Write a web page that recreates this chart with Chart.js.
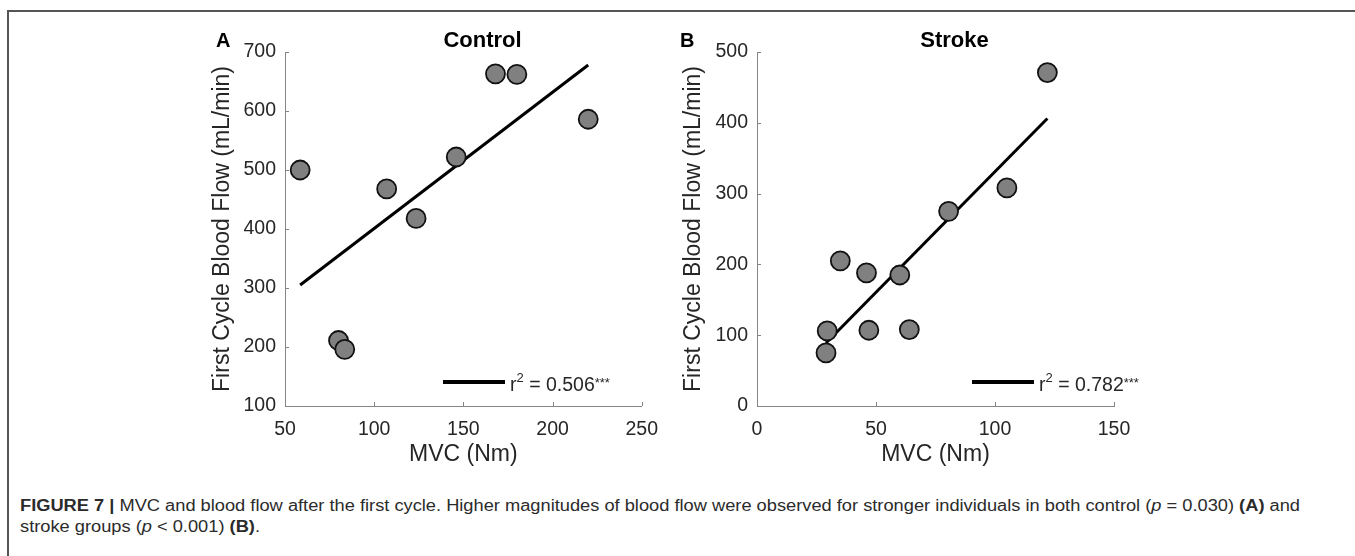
<!DOCTYPE html>
<html><head><meta charset="utf-8">
<script src="https://cdn.jsdelivr.net/npm/chart.js@4.4.0/dist/chart.umd.min.js"></script>
<style>
html,body{margin:0;padding:0;background:#fff;}
body{width:1355px;height:556px;position:relative;overflow:hidden;font-family:"Liberation Sans",Arial,sans-serif;}
#frameTop{position:absolute;left:7px;top:10px;width:1348px;height:0;border-top:2px solid #555;}
#frameLeft{position:absolute;left:7px;top:10px;width:0;height:546px;border-left:2px solid #555;}
canvas{position:absolute;top:0;}
.cap{position:absolute;left:20px;white-space:nowrap;font-size:16px;line-height:20px;color:#2b2b2b;transform-origin:0 0;}
</style></head>
<body>
<div id="frameTop"></div><div id="frameLeft"></div>
<canvas id="cA" width="520" height="480" style="left:150px"></canvas>
<canvas id="cB" width="530" height="480" style="left:620px"></canvas>
<div class="cap" id="cap1" style="top:496px"><b>FIGURE 7 |</b> MVC and blood flow after the first cycle. Higher magnitudes of blood flow were observed for stronger individuals in both control (<i>p</i> = 0.030) <b>(A)</b> and</div>
<div class="cap" id="cap2" style="top:517px">stroke groups (<i>p</i> &lt; 0.001) <b>(B)</b>.</div>
<script>
// ---- data ----
const ctrlMVC  = [58.5, 80, 83.5, 107, 123.5, 146, 168, 180, 220];
const ctrlFlow = [500, 211, 196, 468, 418, 522, 663, 662, 586];
const ctrlFitMVC  = [58.5, 220];
const ctrlFitFlow = [305, 678];
const ctrlR2 = '0.506';

const strokeMVC  = [29, 29.5, 35, 46, 47, 60, 64, 80.5, 105, 122];
const strokeFlow = [75, 106, 205, 188, 107, 185, 108, 275, 308, 471];
const strokeFitMVC  = [29, 122];
const strokeFitFlow = [89, 406];
const strokeR2 = '0.782';

const ctrlXTicks = [50, 250, 50];    // min, max, step
const ctrlYTicks = [100, 700, 100];
const strokeXTicks = [0, 150, 50];
const strokeYTicks = [0, 500, 100];

const xTitle = 'MVC (Nm)';
const yTitle = 'First Cycle Blood Flow (mL/min)';

// ---- styling ----
const FF = '"Liberation Sans", Arial, sans-serif';
const TXT = '#262626';
const AXIS = '#858585';

const decor = {
  id: 'decor',
  afterDraw(chart, args, o) {
    const ctx = chart.ctx, xs = chart.scales.x, ys = chart.scales.y, ca = chart.chartArea;
    ctx.save();
    ctx.strokeStyle = AXIS; ctx.lineWidth = 1;
    ctx.beginPath();
    xs.ticks.forEach(t => { const px = Math.round(xs.getPixelForValue(t.value)) + 0.5; ctx.moveTo(px, ca.bottom); ctx.lineTo(px, ca.bottom - 4); });
    ys.ticks.forEach(t => { const py = Math.round(ys.getPixelForValue(t.value)) + 0.5; ctx.moveTo(ca.left, py); ctx.lineTo(ca.left + 4, py); });
    ctx.stroke();
    // panel title
    ctx.fillStyle = '#000';
    ctx.textBaseline = 'alphabetic';
    ctx.textAlign = 'center';
    ctx.font = 'bold 22px ' + FF;
    ctx.fillText(o.title, ca.left + 197.5, 47);
    ctx.textAlign = 'left';
    ctx.font = 'bold 20px ' + FF;
    ctx.fillText(o.letter, ca.left + o.letterDx, 47);
    // legend
    const ly = ca.bottom - 24;
    ctx.strokeStyle = '#000'; ctx.lineWidth = 4;
    ctx.beginPath(); ctx.moveTo(ca.left + o.legDx, ly); ctx.lineTo(ca.left + o.legDx + 62, ly); ctx.stroke();
    let tx = ca.left + o.legDx + 67;
    const by = ca.bottom - 15;
    ctx.fillStyle = TXT;
    ctx.font = '19.5px ' + FF; ctx.fillText('r', tx, by); tx += ctx.measureText('r').width;
    ctx.font = '13px ' + FF; ctx.fillText('2', tx, by - 9); tx += ctx.measureText('2').width;
    ctx.font = '19.5px ' + FF; ctx.fillText(' = ' + o.r2, tx, by); tx += ctx.measureText(' = ' + o.r2).width;
    ctx.font = '13px ' + FF; ctx.fillText('***', tx, by - 4);
    ctx.restore();
  }
};

function makeChart(id, xs, ys, fx, fy, xt, yt, cfg) {
  const pts = xs.map((v, i) => ({x: v, y: ys[i]}));
  const fit = fx.map((v, i) => ({x: v, y: fy[i]}));
  const canvas = document.getElementById(id);
  return new Chart(canvas, {
    type: 'scatter',
    data: {datasets: [
      {data: pts, pointRadius: 9.5, pointHoverRadius: 9.5, backgroundColor: '#808080', borderColor: '#111', borderWidth: 1.8},
      {type: 'line', data: fit, borderColor: '#000', borderWidth: 3, pointRadius: 0, showLine: true, fill: false}
    ]},
    options: {
      responsive: false, animation: false, events: [],
      layout: {padding: {left: 0, top: 52, right: canvas.width - cfg.caRight, bottom: 0}},
      plugins: {legend: {display: false}, tooltip: {enabled: false}, decor: cfg},
      scales: {
        x: {type: 'linear', min: xt[0], max: xt[1],
            ticks: {stepSize: xt[2], color: TXT, font: {size: 19.5, family: FF}, padding: 12, maxRotation: 0},
            grid: {drawOnChartArea: false, drawTicks: false},
            border: {display: true, color: AXIS, width: 1},
            title: {display: true, text: xTitle, color: TXT, font: {size: 23, family: FF}, padding: {top: 0, bottom: 12}},
            afterFit(s) { s.height = canvas.height - 406; }},
        y: {type: 'linear', min: yt[0], max: yt[1],
            ticks: {stepSize: yt[2], color: TXT, font: {size: 19.5, family: FF}, padding: 9},
            grid: {drawOnChartArea: false, drawTicks: false},
            border: {display: true, color: AXIS, width: 1},
            title: {display: true, text: yTitle, color: TXT, font: {size: 23, family: FF}, padding: {top: cfg.yTitlePad, bottom: 0}},
            afterFit(s) { s.width = cfg.caLeft; }}
      }
    },
    plugins: [decor]
  });
}

makeChart('cA', ctrlMVC, ctrlFlow, ctrlFitMVC, ctrlFitFlow, ctrlXTicks, ctrlYTicks,
  {title: 'Control', letter: 'A', letterDx: -69, legDx: 158, r2: ctrlR2, caLeft: 135, caRight: 493, yTitlePad: 59});
makeChart('cB', strokeMVC, strokeFlow, strokeFitMVC, strokeFitFlow, strokeXTicks, strokeYTicks,
  {title: 'Stroke', letter: 'B', letterDx: -77, legDx: 215, r2: strokeR2, caLeft: 137, caRight: 494, yTitlePad: 60});

// caption: condensed look via horizontal scaling to the reference width
const c1 = document.getElementById('cap1'), c2 = document.getElementById('cap2');
const k = 1280 / c1.getBoundingClientRect().width;
c1.style.transform = 'scaleX(' + k + ')';
c2.style.transform = 'scaleX(' + k + ')';
</script>
</body></html>
